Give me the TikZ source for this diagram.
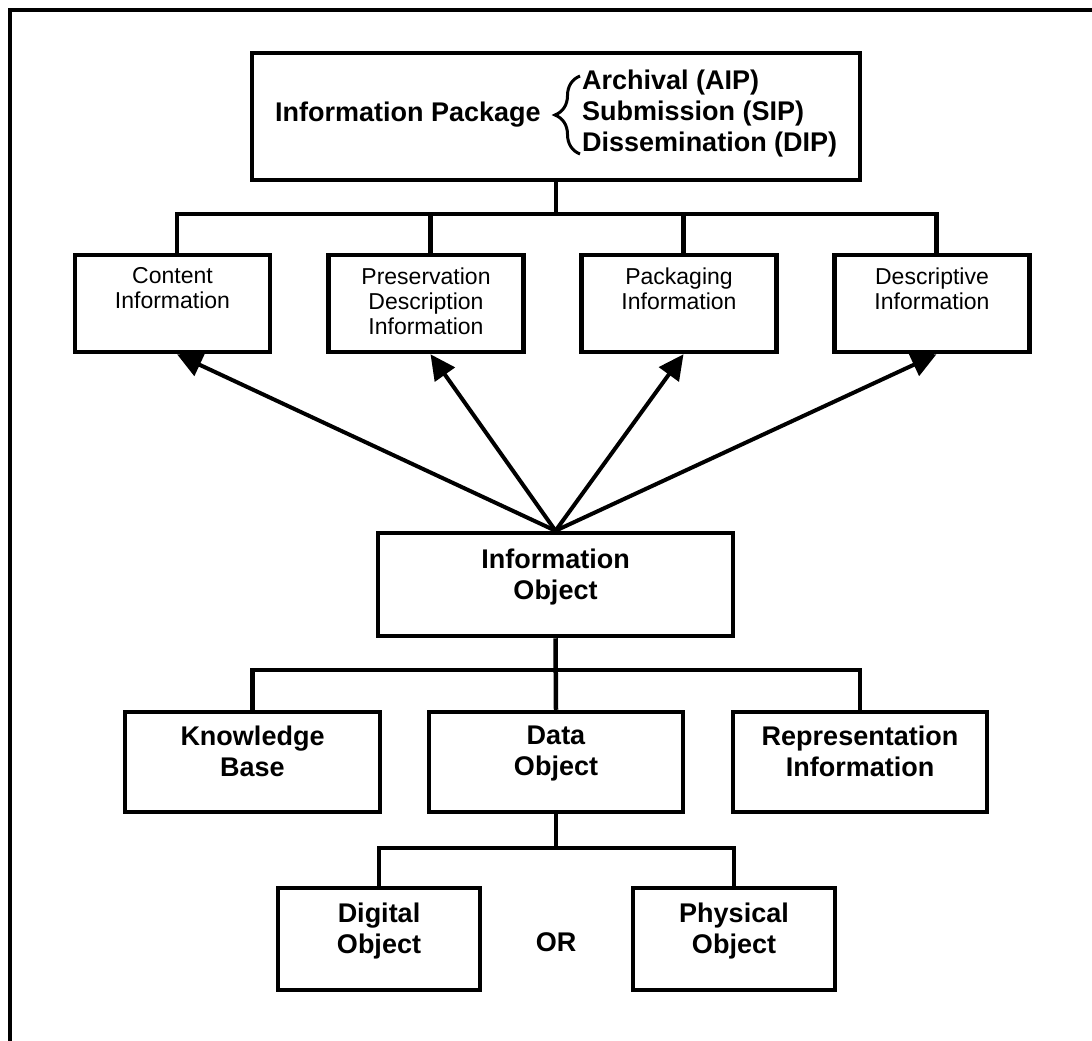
\documentclass[tikz,border=0pt]{standalone}
\usepackage{fontspec}
\setmainfont{Liberation Sans}
\usetikzlibrary{arrows.meta,decorations.pathreplacing}
\begin{document}
\begin{tikzpicture}[x=1pt,y=-1pt,
  box/.style={draw, line width=4.5pt, inner sep=0pt},
  conn/.style={line width=4.5pt},
  arr/.style={line width=4pt, -{Triangle[length=25pt,width=24pt]}},
  bigtxt/.style={font=\fontsize{27pt}{31pt}\selectfont\bfseries, align=center, inner sep=0pt, anchor=north},
  smalltxt/.style={font=\fontsize{23pt}{25pt}\selectfont, align=center, inner sep=0pt, anchor=north}]
\useasboundingbox (0,0) rectangle (1092,1041);
\fill[white] (0,0) rectangle (1092,1041);
\draw[line width=4pt] (10,1041) -- (10,10) -- (1092,10);

% top box
\node[box, minimum width=608pt, minimum height=127pt] (ip) at (556,116.5) {};
\node[bigtxt, anchor=west] (ipt) at (275,115) {Information Package};
\node[bigtxt, anchor=west, align=left] (ipl) at (582,114) {Archival (AIP)\\Submission (SIP)\\Dissemination (DIP)};
\draw[line width=3pt, decorate, decoration={brace, amplitude=25pt, aspect=0.5}] (580,154) -- (580,76);

% second row
\node[box, minimum width=195pt, minimum height=97pt] (ci) at (172.5,303.5) {};
\node[box, minimum width=195pt, minimum height=97pt] (pd) at (426,303.5) {};
\node[box, minimum width=195pt, minimum height=97pt] (pk) at (679,303.5) {};
\node[box, minimum width=195pt, minimum height=97pt] (de) at (932,303.5) {};
\node[smalltxt] (cit) at ([yshift=-14.5pt]ci.north) {Content\\Information};
\node[smalltxt] (pdt) at ([yshift=-14.5pt]pd.north) {Preservation\\Description\\Information};
\node[smalltxt] (pkt) at ([yshift=-14.5pt]pk.north) {Packaging\\Information};
\node[smalltxt] (det) at ([yshift=-14.5pt]de.north) {Descriptive\\Information};

\coordinate (cin) at ([xshift=4.5pt]ci.north);
\coordinate (pdn) at ([xshift=4.5pt]pd.north);
\coordinate (pkn) at ([xshift=4.5pt]pk.north);
\coordinate (den) at ([xshift=4.5pt]de.north);
\coordinate (cis) at ([xshift=4.5pt]ci.south);
\coordinate (pds) at ([xshift=4.5pt]pd.south);
\coordinate (pks) at ([xshift=4.5pt]pk.south);
\coordinate (des) at ([xshift=4.5pt]de.south);
\coordinate (bus1) at (556,214);

\draw[conn] (ip.south) -- (bus1);
\draw[conn] (cin) |- (bus1) -| (den);
\draw[conn] (pdn) -- (pdn |- bus1);
\draw[conn] (pkn) -- (pkn |- bus1);

% information object
\node[box, minimum width=355pt, minimum height=103pt] (io) at (555.5,584.5) {};
\node[bigtxt] (iot) at ([yshift=-17.5pt]io.north) {Information\\Object};

\draw[arr] (io.north) -- (cis);
\draw[arr] (io.north) -- (pds);
\draw[arr] (io.north) -- (pks);
\draw[arr] (io.north) -- (des);

% third row
\node[box, minimum width=255pt, minimum height=100pt] (kb) at (252.5,762) {};
\node[box, minimum width=254pt, minimum height=100pt] (do) at (556,762) {};
\node[box, minimum width=254pt, minimum height=100pt] (ri) at (860,762) {};
\node[bigtxt] (kbt) at ([yshift=-15.5pt]kb.north) {Knowledge\\Base};
\node[bigtxt] (dot) at ([yshift=-15.5pt]do.north) {Data\\Object};
\node[bigtxt] (rit) at ([yshift=-15.5pt]ri.north) {Representation\\Information};

\coordinate (bus2) at (556,670);
\draw[conn] (io.south) -- (do.north);
\draw[conn] (kb.north) |- (bus2) -| (ri.north);

% fourth row
\node[box, minimum width=202pt, minimum height=102pt] (dg) at (379,939) {};
\node[box, minimum width=202pt, minimum height=102pt] (ph) at (734,939) {};
\node[bigtxt] (dgt) at ([yshift=-16.5pt]dg.north) {Digital\\Object};
\node[bigtxt] (pht) at ([yshift=-16.5pt]ph.north) {Physical\\Object};
\node[bigtxt, anchor=center] (or) at (556,942) {OR};

\coordinate (bus3) at (556,848);
\draw[conn] (do.south) -- (bus3);
\draw[conn] (dg.north) |- (bus3) -| (ph.north);
\end{tikzpicture}
\end{document}
